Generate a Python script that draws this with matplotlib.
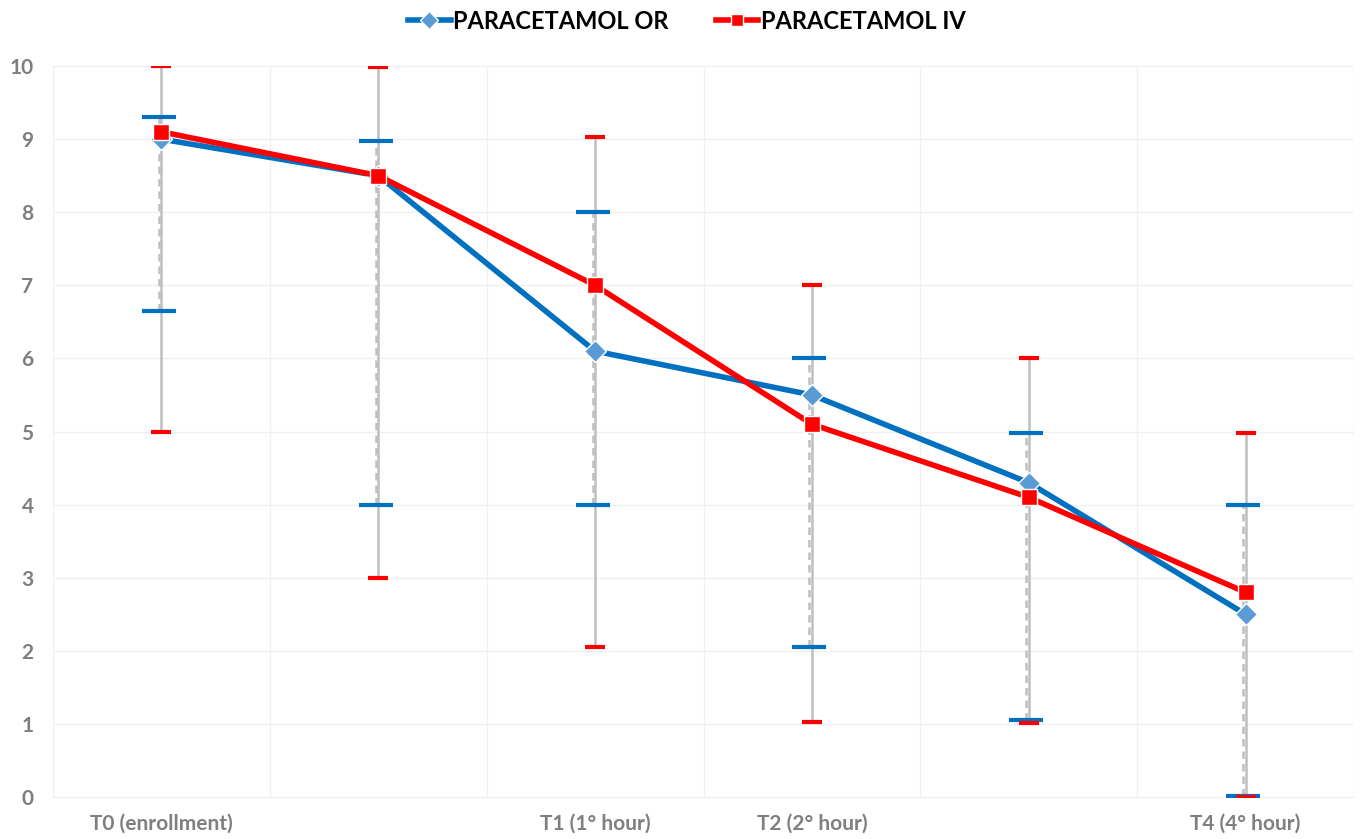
import matplotlib.pyplot as plt
import numpy as np

plt.rcParams['font.family'] = ['Lato', 'DejaVu Sans']

categories = ['T0 (enrollment)', '', 'T1 (1° hour)', 'T2 (2° hour)', '', 'T4 (4° hour)']

or_mean = [9.0, 8.5, 6.1, 5.5, 4.3, 2.5]
or_low = [6.65, 4.0, 4.0, 2.05, 1.05, 0.02]
or_high = [9.3, 8.97, 8.0, 6.0, 4.98, 4.0]

iv_mean = [9.1, 8.5, 7.0, 5.1, 4.1, 2.8]
iv_low = [5.0, 3.0, 2.05, 1.03, 1.01, 0.0]
iv_high = [10.0, 9.98, 9.03, 7.0, 6.0, 4.98]

blue = '#0070C0'
blue_marker = '#5B9BD5'
red = '#FF0000'
grey_err = '#BFBFBF'
text_grey = '#7F7F7F'

fig = plt.figure(figsize=(13.6, 8.39), dpi=100)
ax = fig.add_axes([0.039, 0.050, 0.9566, 0.8713])

x = np.arange(len(categories))
off = -0.012

# error bars: grey stems, coloured caps
or_m = np.array(or_mean)
iv_m = np.array(iv_mean)
ax.errorbar(x, iv_m, yerr=[iv_m - np.array(iv_low), np.array(iv_high) - iv_m],
            fmt='none', ecolor=grey_err, elinewidth=1.8, capsize=0, zorder=2)
eb = ax.errorbar(x + off, or_m, yerr=[or_m - np.array(or_low), np.array(or_high) - or_m],
                 fmt='none', ecolor=grey_err, elinewidth=1.8, capsize=0, zorder=2)
eb[2][0].set_linestyle((0, (3, 2)))

ax.plot(x + off, or_low, linestyle='none', marker='_', markersize=24,
        markeredgewidth=3, color=blue, zorder=3)
ax.plot(x + off, or_high, linestyle='none', marker='_', markersize=24,
        markeredgewidth=3, color=blue, zorder=3)
ax.plot(x, iv_low, linestyle='none', marker='_', markersize=15,
        markeredgewidth=3, color=red, zorder=3)
ax.plot(x, iv_high, linestyle='none', marker='_', markersize=15,
        markeredgewidth=3, color=red, zorder=3)

ax.plot(x, or_mean, color=blue, linewidth=4, marker='D', markersize=11,
        markerfacecolor=blue_marker, markeredgecolor='white', markeredgewidth=1,
        label='PARACETAMOL OR', zorder=4)
ax.plot(x, iv_mean, color=red, linewidth=4, marker='s', markersize=11,
        markerfacecolor=red, markeredgecolor='white', markeredgewidth=1,
        label='PARACETAMOL IV', zorder=5)

ax.set_xlim(-0.5, len(categories) - 0.5)
ax.set_ylim(0, 10)
ax.set_yticks(range(0, 11))
ax.set_xticks(x)
ax.set_xticklabels(categories)
ax.set_xticks(np.arange(-0.5, len(categories), 1.0), minor=True)

ax.grid(True, which='major', axis='y', color='#F0F0F0', linewidth=1)
ax.grid(True, which='minor', axis='x', color='#F0F0F0', linewidth=1)
ax.tick_params(axis='both', which='both', length=0)
ax.tick_params(axis='y', pad=14, labelsize=15, labelcolor=text_grey)
ax.tick_params(axis='x', pad=12, labelsize=15, labelcolor=text_grey)
for lbl in ax.get_xticklabels() + ax.get_yticklabels():
    lbl.set_fontweight('bold')

for s in ['top', 'right', 'left']:
    ax.spines[s].set_visible(False)
ax.spines['bottom'].set_color('#F0F0F0')

fig.legend(loc='upper center', bbox_to_anchor=(0.505, 1.014), ncol=2, frameon=False,
           prop={'weight': 'bold', 'size': 17}, handlelength=1.8,
           handletextpad=0.1, columnspacing=2.0, markerscale=0.8)

fig.savefig('out.png', dpi=100)
